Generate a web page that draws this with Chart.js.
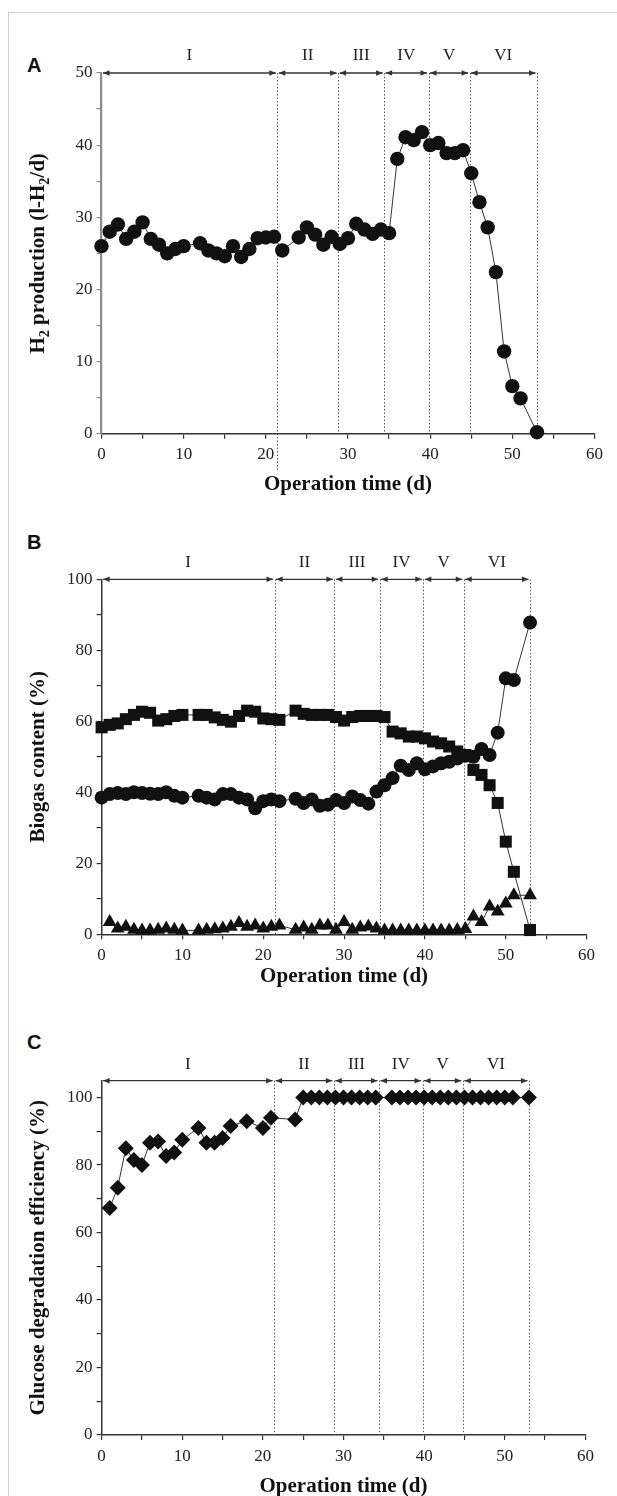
<!DOCTYPE html>
<html>
<head>
<meta charset="utf-8">
<script src="https://cdn.jsdelivr.net/npm/chart.js@4.4.1/dist/chart.umd.min.js"></script>
<style>
html, body { margin: 0; padding: 0; background: #fff; }
body { width: 617px; height: 1496px; position: relative; overflow: hidden; }
#frame { position: absolute; left: 8px; top: 12px; width: 800px; height: 1600px;
  border-left: 1.5px solid #d0d0d0; border-top: 1.5px solid #d0d0d0; }
.panel { position: absolute; left: 0; width: 617px; }
.letter { position: absolute; left: 27px; font: bold 20px "Liberation Sans", Arial, sans-serif; line-height: 20px; color: #111; }
</style>
</head>
<body>
<div id="frame"></div>
<div class="letter" style="top:55px">A</div>
<div class="letter" style="top:532px">B</div>
<div class="letter" style="top:1032px">C</div>
<div class="panel" style="top:40px;height:470px"><canvas id="cA"></canvas></div>
<div class="panel" style="top:520px;height:480px"><canvas id="cB"></canvas></div>
<div class="panel" style="top:1010px;height:486px"><canvas id="cC"></canvas></div>
<script>
// ---------------- DATA ----------------
const phaseBounds = [0, 21.4, 28.8, 34.4, 39.8, 44.8, 53];
const phaseLabels = ['I', 'II', 'III', 'IV', 'V', 'VI'];

const xTicks = [0, 5, 10, 15, 20, 25, 30, 35, 40, 45, 50, 55, 60];
const xTickLabels = ['0', '10', '20', '30', '40', '50', '60'];

const yTicksA = [0, 5, 10, 15, 20, 25, 30, 35, 40, 45, 50];
const yTickLabelsA = ['0', '10', '20', '30', '40', '50'];
const yTicksB = [0, 10, 20, 30, 40, 50, 60, 70, 80, 90, 100];
const yTickLabelsB = ['0', '20', '40', '60', '80', '100'];
const yTicksC = [0, 10, 20, 30, 40, 50, 60, 70, 80, 90, 100];
const yTickLabelsC = ['0', '20', '40', '60', '80', '100'];

// Panel A: H2 production (l-H2/d)
const daysA = [0,1,2,3,4,5,6,7,8,9,10,12,13,14,15,16,17,18,19,20,21,22,24,25,26,27,28,29,30,31,32,33,34,35,36,37,38,39,40,41,42,43,44,45,46,47,48,49,50,51,53];
const h2Production = [26,28,29,27,28,29.3,27,26.2,25,25.6,26,26.4,25.4,25,24.6,26,24.5,25.6,27.1,27.2,27.3,25.4,27.2,28.6,27.6,26.2,27.3,26.3,27.1,29.1,28.3,27.7,28.3,27.8,38.1,41.1,40.7,41.8,40,40.3,38.9,38.9,39.3,36.1,32.1,28.6,22.4,11.4,6.6,4.9,0.2];

// Panel B: biogas content (%)
const daysB = [0,1,2,3,4,5,6,7,8,9,10,12,13,14,15,16,17,18,19,20,21,22,24,25,26,27,28,29,30,31,32,33,34,35,36,37,38,39,40,41,42,43,44,45,46,47,48,49,50,51,53];
const gasSquares = [58.3,59,59.4,60.6,61.8,62.7,62.4,60.2,60.6,61.5,61.8,61.8,61.8,61.1,60.4,59.9,61.5,63,62.7,60.8,60.6,60.4,63,62.1,61.8,61.8,61.8,61.2,60.2,61.2,61.5,61.5,61.5,61.2,57.1,56.6,55.7,55.7,55.2,54.3,53.8,52.9,51.5,50.5,46.3,44.9,42,37,26.1,17.6,1.2];
const gasCircles = [38.5,39.5,39.8,39.5,40,39.8,39.6,39.5,40,39,38.5,39,38.5,38,39.5,39.5,38.5,38,35.5,37.5,38,37.5,38.2,37,38,36.2,36.5,37.8,37,38.8,37.8,36.8,40.2,42,44,47.5,46.3,48.2,46.5,47.3,48.2,48.6,49.5,50.3,50,52.2,50.5,56.8,72.1,71.6,87.8];
const daysBTri = [1,2,3,4,5,6,7,8,9,10,12,13,14,15,16,17,18,19,20,21,22,24,25,26,27,28,29,30,31,32,33,34,35,36,37,38,39,40,41,42,43,44,45,46,47,48,49,50,51,53];
const gasTriangles = [3.5,1.6,2.1,1.3,1.1,1.1,1.3,1.6,1.3,1.1,1.1,1.3,1.4,1.6,2.1,3.2,2.1,2.5,1.6,2.1,2.5,1.3,1.9,1.3,2.5,2.5,1.3,3.5,1.3,1.9,2.2,1.6,1.1,1.1,1.1,1.1,1.1,1.1,1.1,1.1,1.1,1.2,1.5,5,3.5,7.8,6.4,8.7,11,11];

// Panel C: glucose degradation efficiency (%)
const daysC = [1,2,3,4,5,6,7,8,9,10,12,13,14,15,16,18,20,21,24,25,26,27,28,29,30,31,32,33,34,36,37,38,39,40,41,42,43,44,45,46,47,48,49,50,51,53];
const glucoseEff = [67.3,73.3,85,81.5,80,86.6,87,82.7,83.7,87.5,91,86.6,86.6,88,91.6,93,91,94,93.5,100,100,100,100,100,100,100,100,100,100,100,100,100,100,100,100,100,100,100,100,100,100,100,100,100,100,100];

// ---------------- HELPERS ----------------
const SERIF = '"Liberation Serif", "Times New Roman", serif';
const pts = (xs, ys) => xs.map((x, i) => ({ x: x, y: ys[i] }));

function arrowHead(ctx, xTip, y, dir) {
  ctx.beginPath();
  ctx.moveTo(xTip, y);
  ctx.lineTo(xTip - dir * 6.5, y - 2.8);
  ctx.lineTo(xTip - dir * 6.5, y + 2.8);
  ctx.closePath();
  ctx.fill();
}

function drawRich(ctx, parts, size) {
  const mainFont = 'bold ' + size + 'px ' + SERIF;
  const subFont = 'bold ' + Math.round(size * 0.68) + 'px ' + SERIF;
  let total = 0;
  parts.forEach(p => { ctx.font = p.sub ? subFont : mainFont; p.w = ctx.measureText(p.t).width; total += p.w; });
  let x = -total / 2;
  ctx.textAlign = 'left';
  ctx.textBaseline = 'middle';
  parts.forEach(p => {
    ctx.font = p.sub ? subFont : mainFont;
    ctx.fillText(p.t, x, p.sub ? size * 0.3 : 0);
    x += p.w;
  });
}

const phasePlugin = {
  id: 'phases',
  beforeDatasetsDraw(chart, args, o) {
    const ctx = chart.ctx, x = chart.scales.x, y = chart.scales.y;
    const yTop = y.getPixelForValue(o.top);
    const yBot = y.getPixelForValue(0);
    ctx.save();
    ctx.strokeStyle = '#555';
    ctx.lineWidth = 1;
    ctx.setLineDash([1.5, 2]);
    phaseBounds.slice(1).forEach((b, i) => {
      const px = Math.round(x.getPixelForValue(b)) + 0.5;
      const end = (i === 0 && o.extendFirst) ? o.extendFirst - o.T : yBot;
      ctx.beginPath(); ctx.moveTo(px, yTop); ctx.lineTo(px, end); ctx.stroke();
    });
    ctx.setLineDash([]);
    ctx.strokeStyle = '#333';
    ctx.fillStyle = '#333';
    ctx.lineWidth = 1.3;
    for (let i = 0; i < phaseLabels.length; i++) {
      const x1 = x.getPixelForValue(phaseBounds[i]) + 1.5;
      const x2 = x.getPixelForValue(phaseBounds[i + 1]) - 1.5;
      ctx.beginPath(); ctx.moveTo(x1, yTop); ctx.lineTo(x2, yTop); ctx.stroke();
      arrowHead(ctx, x1, yTop, -1);
      arrowHead(ctx, x2, yTop, 1);
      ctx.fillStyle = '#222';
      ctx.font = '17px ' + SERIF;
      ctx.textAlign = 'center';
      ctx.textBaseline = 'middle';
      ctx.fillText(phaseLabels[i], (x1 + x2) / 2, yTop - o.labelGap);
      ctx.fillStyle = '#333';
    }
    ctx.restore();
  },
  afterDraw(chart, args, o) {
    const ctx = chart.ctx, a = chart.chartArea;
    ctx.save();
    ctx.fillStyle = '#111';
    ctx.font = 'bold 21px ' + SERIF;
    ctx.textAlign = 'center';
    ctx.textBaseline = 'middle';
    ctx.fillText('Operation time (d)', (a.left + a.right) / 2, a.bottom + o.xTitleGap);
    ctx.translate(o.yTitleX, (a.top + a.bottom) / 2);
    ctx.rotate(-Math.PI / 2);
    drawRich(ctx, o.yTitle, 21);
    ctx.restore();
  }
};

function makePanel(id, T, H, area, yMax, yTicks, yLabels, yBorder, datasets, extra) {
  const tickFont = { family: SERIF, size: 17 };
  return new Chart(document.getElementById(id), {
    type: 'line',
    data: { datasets: datasets },
    plugins: [phasePlugin],
    options: {
      responsive: true,
      maintainAspectRatio: false,
      animation: false,
      events: [],
      layout: { padding: { left: 0, top: area.Ty - T, right: 617 - area.R, bottom: 0 } },
      plugins: {
        legend: { display: false },
        tooltip: { enabled: false },
        phases: Object.assign({ T: T, top: yMax }, extra)
      },
      scales: {
        x: {
          type: 'linear', min: 0, max: 60,
          afterBuildTicks: s => { s.ticks = xTicks.map(v => ({ value: v })); },
          afterFit: s => { s.height = T + H - area.By; },
          ticks: { callback: v => (xTickLabels.includes(String(v)) ? String(v) : ''),
                   autoSkip: false, maxRotation: 0, padding: 6, color: '#222', font: tickFont },
          grid: { drawOnChartArea: false, drawTicks: true, tickLength: 5, color: '#333', lineWidth: 1.2 },
          border: { display: true, color: '#333', width: 1.5 }
        },
        y: {
          type: 'linear', min: 0, max: yMax,
          afterBuildTicks: s => { s.ticks = yTicks.map(v => ({ value: v })); },
          afterFit: s => { s.width = area.L; },
          ticks: { callback: v => (yLabels.includes(String(v)) ? String(v) : ''),
                   autoSkip: false, padding: 4, color: '#222', font: tickFont },
          grid: { drawOnChartArea: false, drawTicks: true, tickLength: 5, color: yBorder.color, lineWidth: 1.2 },
          border: { display: true, color: yBorder.color, width: yBorder.width }
        }
      }
    }
  });
}

const lineStyle = { borderColor: '#333', borderWidth: 1, tension: 0, clip: false,
  pointBackgroundColor: '#111', pointBorderWidth: 0, pointBorderColor: '#111' };

makePanel('cA', 40, 470, { L: 101.5, R: 594.5, Ty: 73, By: 433.7 }, 50, yTicksA, yTickLabelsA,
  { color: '#8c8c8c', width: 2.2 },
  [Object.assign({ data: pts(daysA, h2Production), pointStyle: 'circle', pointRadius: 7.2 }, lineStyle)],
  { labelGap: 17, xTitleGap: 51, yTitleX: 39, extendFirst: 471,
    yTitle: [{ t: 'H' }, { t: '2', sub: true }, { t: ' production (l-H' }, { t: '2', sub: true }, { t: '/d)' }] });

makePanel('cB', 520, 480, { L: 101.6, R: 586.6, Ty: 579.3, By: 934.3 }, 100, yTicksB, yTickLabelsB,
  { color: '#333', width: 1.5 },
  [Object.assign({ data: pts(daysB, gasSquares), pointStyle: 'rect', pointRadius: 8.5 }, lineStyle),
   Object.assign({ data: pts(daysB, gasCircles), pointStyle: 'circle', pointRadius: 7 }, lineStyle),
   Object.assign({ data: pts(daysBTri, gasTriangles), pointStyle: 'triangle', pointRadius: 8 }, lineStyle)],
  { labelGap: 17, xTitleGap: 42.5, yTitleX: 39, yTitle: [{ t: 'Biogas content (%)' }] });

makePanel('cC', 1010, 486, { L: 101.6, R: 585.4, Ty: 1080.7, By: 1435 }, 105, yTicksC, yTickLabelsC,
  { color: '#333', width: 1.5 },
  [Object.assign({ data: pts(daysC, glucoseEff), pointStyle: 'rectRot', pointRadius: 8 }, lineStyle)],
  { labelGap: 16, xTitleGap: 52, yTitleX: 39, yTitle: [{ t: 'Glucose degradation efficiency (%)' }] });
</script>
</body>
</html>
